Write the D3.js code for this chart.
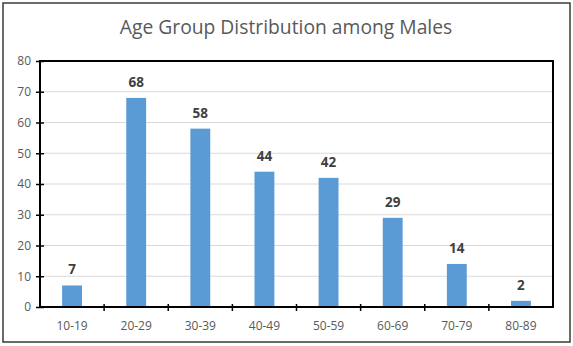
<!DOCTYPE html>
<html><head><meta charset="utf-8">
<script src="https://cdn.jsdelivr.net/npm/d3@7"></script>
<style>body{margin:0;background:#fff;} svg{display:block;}</style>
</head><body>
<script>
const categories = ["10-19","20-29","30-39","40-49","50-59","60-69","70-79","80-89"];
const values = [7,68,58,44,42,29,14,2];
const yTicks = [0,10,20,30,40,50,60,70,80];
const title = "Age Group Distribution among Males";

const W = 573, H = 346;
const m = {left:40, right:20, top:61, bottom:39};
const svg = d3.select("body").append("svg").attr("width", W).attr("height", H);
svg.append("rect").attr("width", W).attr("height", H).attr("fill", "#fff");
svg.append("rect").attr("x", 3).attr("y", 3).attr("width", 567).attr("height", 339)
  .attr("fill", "none").attr("stroke", "#3a3a3a").attr("stroke-width", 1.5);

const x = d3.scaleBand().domain(categories).range([m.left, W - m.right]).paddingInner(0).paddingOuter(0);
const y = d3.scaleLinear().domain([0, 80]).range([H - m.bottom, m.top]);

// gridlines
svg.append("g").selectAll("line").data(yTicks.filter(d => d > 0 && d < 80)).join("line")
  .attr("x1", m.left).attr("x2", W - m.right)
  .attr("y1", d => y(d)).attr("y2", d => y(d))
  .attr("stroke", "#d9d9d9").attr("stroke-width", 1);

// bars
const bw = x.bandwidth() * 0.31;
svg.append("g").selectAll("rect").data(values).join("rect")
  .attr("x", (d, i) => x(categories[i]) + x.bandwidth() / 2 - bw / 2)
  .attr("width", bw)
  .attr("y", d => y(d))
  .attr("height", d => y(0) - y(d))
  .attr("fill", "#5b9bd5");

// labels
svg.append("g").selectAll("text").data(values).join("text")
  .attr("x", (d, i) => x(categories[i]) + x.bandwidth() / 2)
  .attr("y", d => y(d) - 11)
  .attr("text-anchor", "middle")
  .attr("font-family", "Open Sans, sans-serif").attr("font-weight", "bold").attr("font-size", 13.5)
  .attr("fill", "#404040")
  .text(d => d);

// frame
svg.append("rect").attr("x", m.left).attr("y", m.top)
  .attr("width", W - m.right - m.left).attr("height", H - m.bottom - m.top)
  .attr("fill", "none").attr("stroke", "#000").attr("stroke-width", 2);

// y axis
const yAxis = d3.axisLeft(y).tickValues(yTicks).tickSize(4);
const gy = svg.append("g").attr("transform", `translate(${m.left},0)`).call(yAxis);
gy.select(".domain").remove();
gy.selectAll(".tick line").attr("x1", -4).attr("x2", 4).attr("stroke", "#000").attr("stroke-width", 1.5);
gy.selectAll(".tick text").attr("x", -9).attr("font-family", "Open Sans, sans-serif").attr("font-size", 12).attr("fill", "#595959");

// x axis
const xAxis = d3.axisBottom(x).tickSize(0);
const gx = svg.append("g").attr("transform", `translate(0,${H - m.bottom})`).call(xAxis);
gx.select(".domain").remove();
gx.selectAll(".tick text").attr("y", 14).attr("font-family", "Open Sans, sans-serif").attr("font-size", 12).attr("fill", "#595959");
// category separator ticks
svg.append("g").selectAll("line").data(categories.slice(1)).join("line")
  .attr("x1", d => x(d)).attr("x2", d => x(d))
  .attr("y1", H - m.bottom - 3).attr("y2", H - m.bottom + 4)
  .attr("stroke", "#000").attr("stroke-width", 1.5);

// title
svg.append("text").attr("x", 286).attr("y", 34).attr("text-anchor", "middle")
  .attr("font-family", "Open Sans, sans-serif").attr("font-size", 19.3).attr("fill", "#595959")
  .text(title);
</script>
</body></html>
